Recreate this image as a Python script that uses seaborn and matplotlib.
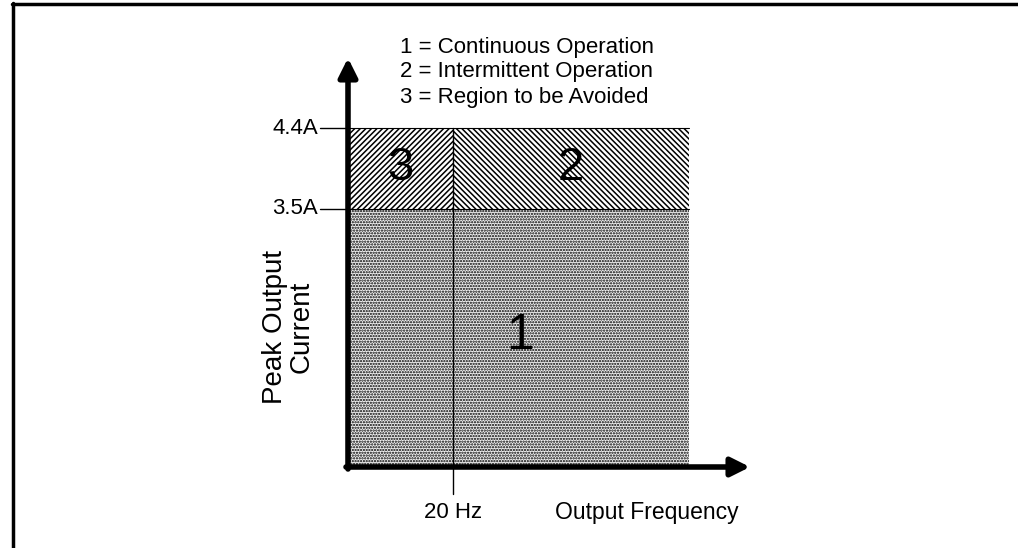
import numpy as np
import matplotlib
import matplotlib.pyplot as plt
import seaborn as sns
from matplotlib.lines import Line2D

# region boundaries (schematic) and labels
freq_break = 20          # Hz
freq_max = 65            # Hz, right edge of the drawn regions
current_cont = 3.5       # A
current_peak = 4.4       # A
current_ticks = [3.5, 4.4]
current_labels = ["3.5A", "4.4A"]
freq_label = "20 Hz"
legend_lines = ["1 = Continuous Operation",
                "2 = Intermittent Operation",
                "3 = Region to be Avoided"]

sns.set_style("white")
plt.rcParams["font.family"] = ["Liberation Sans", "DejaVu Sans"]
plt.rcParams["hatch.linewidth"] = 1.1
plt.rcParams["text.color"] = "black"

fig = plt.figure(figsize=(10.18, 5.48), dpi=100)
# axes placed so the origin sits at (348, 467) px
px_x = 5.25   # px per Hz
px_y = 90.0   # px per A
ax = fig.add_axes([348 / 1018, 81 / 548, 420 / 1018, 427 / 548])
y0 = current_cont - 258 / px_y
ax.set_xlim(0, 420 / px_x)
ax.set_ylim(y0, y0 + 427 / px_y)
ax.axis("off")

# region 1 : continuous operation (stippled)
ax.bar(0, current_cont - y0, width=freq_max, bottom=y0, align="edge",
       facecolor="#f0f0f0", edgecolor="black", hatch="......", linewidth=0)
# region 3 : to be avoided
ax.bar(0, current_peak - current_cont, width=freq_break, bottom=current_cont,
       align="edge", facecolor="white", edgecolor="black", hatch="/" * 6,
       linewidth=0)
# region 2 : intermittent
ax.bar(freq_break, current_peak - current_cont, width=freq_max - freq_break,
       bottom=current_cont, align="edge", facecolor="white", edgecolor="black",
       hatch="\\" * 6, linewidth=0)
ax.plot([0, freq_max], [current_cont, current_cont], color="black", lw=0.8)
ax.plot([0, freq_max], [current_peak, current_peak], color="black", lw=0.8)

# 20 Hz divider with tick below the axis
ax.plot([freq_break, freq_break], [y0 - 27 / px_y, current_peak],
        color="black", lw=1, clip_on=False)
ax.text(freq_break, y0 - 46 / px_y, freq_label, ha="center", va="center",
        fontsize=16)

# current ticks
for val, lab in zip(current_ticks, current_labels):
    ax.plot([-28 / px_x, 0], [val, val], color="black", lw=1, clip_on=False)
    ax.text(-30 / px_x, val, lab, ha="right", va="center", fontsize=16)

# axes arrows
ax.annotate("", xy=(0, y0 + 409 / px_y), xytext=(0, y0 - 2 / px_y),
            arrowprops=dict(arrowstyle="-|>", lw=4, color="black",
                            mutation_scale=28, shrinkA=0, shrinkB=0),
            annotation_clip=False)
ax.annotate("", xy=(402 / px_x, y0), xytext=(-2 / px_x, y0),
            arrowprops=dict(arrowstyle="-|>", lw=4, color="black",
                            mutation_scale=28, shrinkA=0, shrinkB=0),
            annotation_clip=False)

# region numbers
ax.text(freq_break / 2, (current_cont + current_peak) / 2, "3", ha="center",
        va="center", fontsize=34)
ax.text((freq_break + freq_max) / 2, (current_cont + current_peak) / 2, "2",
        ha="center", va="center", fontsize=34)
ax.text(32.8, y0 + 131 / px_y, "1", ha="center", va="center", fontsize=36)

# legend text
ax.text(52 / px_x, y0 + 395 / px_y, "\n".join(legend_lines), ha="left",
        va="center", fontsize=16, linespacing=1.25)

# axis titles
ax.text(57, y0 - 45 / px_y, "Output Frequency", ha="center", va="center",
        fontsize=16.5)
ax.text(-60 / px_x, y0 + 140 / px_y, "Peak Output\nCurrent", ha="center",
        va="center", rotation=90, fontsize=20, linespacing=1.05)

# partial frame (left and top)
fig.add_artist(Line2D([13 / 1018, 13 / 1018], [0, 1 - 3 / 548],
                      color="black", lw=2.5, transform=fig.transFigure))
fig.add_artist(Line2D([12 / 1018, 1], [1 - 4 / 548, 1 - 4 / 548],
                      color="black", lw=2.5, transform=fig.transFigure))

fig.savefig("out.png", dpi=100)
